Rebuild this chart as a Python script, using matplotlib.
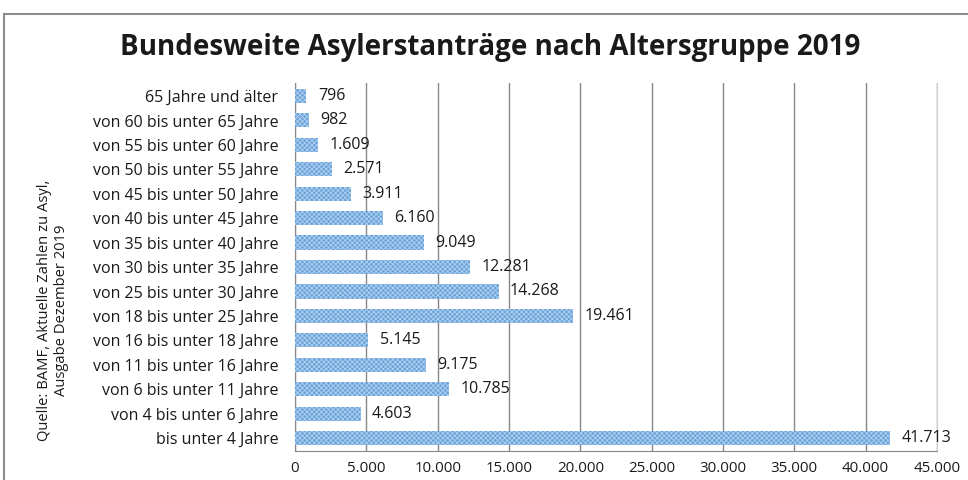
import matplotlib
matplotlib.use('Agg')
import matplotlib.pyplot as plt
from matplotlib.lines import Line2D
from matplotlib.ticker import FuncFormatter, MultipleLocator

# Daten (von unten nach oben)
altersgruppen = [
    'bis unter 4 Jahre', 'von 4 bis unter 6 Jahre', 'von 6 bis unter 11 Jahre',
    'von 11 bis unter 16 Jahre', 'von 16 bis unter 18 Jahre', 'von 18 bis unter 25 Jahre',
    'von 25 bis unter 30 Jahre', 'von 30 bis unter 35 Jahre', 'von 35 bis unter 40 Jahre',
    'von 40 bis unter 45 Jahre', 'von 45 bis unter 50 Jahre', 'von 50 bis unter 55 Jahre',
    'von 55 bis unter 60 Jahre', 'von 60 bis unter 65 Jahre', '65 Jahre und älter',
]
antraege = [41713, 4603, 10785, 9175, 5145, 19461, 14268, 12281, 9049, 6160,
            3911, 2571, 1609, 982, 796]

plt.rcParams['font.family'] = ['Open Sans', 'DejaVu Sans']
plt.rcParams['hatch.linewidth'] = 0.6
plt.rcParams['hatch.color'] = '#b3d1ee'

def de_format(v, pos=None):
    return f'{int(v):,}'.replace(',', '.')

fig = plt.figure(figsize=(9.68, 4.8), dpi=100)
ax = fig.add_axes([295 / 968, 1 - 451 / 480, (937 - 295) / 968, (451 - 83) / 480])

pos = range(len(altersgruppen))
ax.barh(pos, antraege, height=0.58, color='#68a3da', hatch='xxxxxxx',
        linewidth=0, zorder=3)

for y, v in zip(pos, antraege):
    ax.text(v + 800, y, de_format(v), va='center', ha='left', fontsize=11.5,
            color='#1a1a1a', zorder=4)

ax.set_xlim(0, 45000)
ax.set_ylim(-0.53, len(altersgruppen) - 0.47)
ax.xaxis.set_major_locator(MultipleLocator(5000))
ax.xaxis.set_major_formatter(FuncFormatter(de_format))
ax.set_yticks(list(pos))
ax.set_yticklabels(altersgruppen)
ax.tick_params(axis='both', length=0, colors='#1a1a1a')
ax.tick_params(axis='x', pad=7, labelsize=10.8)
ax.tick_params(axis='y', pad=12, labelsize=11.5)

ax.grid(axis='x', color='#868686', linewidth=1, zorder=0)
ax.spines['top'].set_visible(False)
ax.spines['left'].set_color('#868686')
ax.spines['bottom'].set_color('#868686')
ax.spines['right'].set_color('#d0d0d0')

# Titel und Quelle
fig.text(490 / 968, 1 - 47 / 480, 'Bundesweite Asylerstanträge nach Altersgruppe 2019',
         ha='center', va='center', fontsize=20, fontweight='bold', color='#1a1a1a')
fig.text(53 / 968, 1 - 310 / 480,
         'Quelle: BAMF, Aktuelle Zahlen zu Asyl,\nAusgabe Dezember 2019',
         rotation=90, ha='center', va='center', fontsize=10.6, color='#1a1a1a',
         multialignment='center', linespacing=1.2)

# Rahmen des Diagramms
fig.add_artist(Line2D([4 / 968, 4 / 968], [0, 1 - 14 / 480], color='#8c8c8c', linewidth=1.5))
fig.add_artist(Line2D([4 / 968, 1], [1 - 14 / 480, 1 - 14 / 480], color='#8c8c8c', linewidth=1.5))

fig.savefig('out.png', dpi=100)
